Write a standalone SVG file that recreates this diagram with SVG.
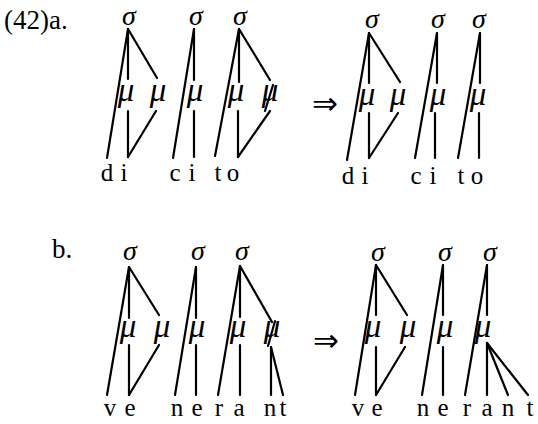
<svg xmlns="http://www.w3.org/2000/svg" width="538" height="424" viewBox="0 0 538 424">
<style>
.lab{font-family:"Liberation Serif",serif;font-size:27px;fill:#000}
.seg{font-family:"Liberation Serif",serif;font-size:25px;fill:#000;text-anchor:middle}
.gr{font-family:"Liberation Serif",serif;font-size:33px;font-style:italic;fill:#000;text-anchor:middle}
.sg{font-size:28px}
.arr{font-family:"DejaVu Sans",sans-serif;font-size:31px;fill:#000;text-anchor:middle}
.ln line{stroke:#000;stroke-width:2.2;stroke-linecap:round}
</style>
<rect width="538" height="424" fill="#fff"/>
<text class="lab" x="4" y="29">(42)a.</text>
<text class="lab" x="52" y="258">b.</text>

<g id="connectors" class="ln">
<!-- a left syll 1 -->
<line x1="128" y1="29" x2="107" y2="158"/>
<line x1="128" y1="29" x2="128" y2="79"/>
<line x1="128" y1="29" x2="157" y2="78"/>
<line x1="128" y1="111" x2="128" y2="157"/>
<line x1="156" y1="111" x2="128" y2="157"/>
<!-- a left syll 2 -->
<line x1="194" y1="29" x2="173" y2="158"/>
<line x1="194" y1="29" x2="194" y2="80"/>
<line x1="194" y1="111" x2="194" y2="157"/>
<!-- a left syll 3 -->
<line x1="239" y1="29" x2="215" y2="156"/>
<line x1="239" y1="29" x2="239" y2="82"/>
<line x1="239" y1="29" x2="270" y2="80"/>
<line x1="238" y1="111" x2="238" y2="157"/>
<line x1="270" y1="111" x2="238" y2="157"/>
<line x1="265" y1="111" x2="273" y2="85"/>
<!-- a right syll 1 -->
<line x1="369" y1="33" x2="347" y2="160"/>
<line x1="369" y1="33" x2="369" y2="83"/>
<line x1="369" y1="33" x2="400" y2="82"/>
<line x1="369" y1="113" x2="369" y2="158"/>
<line x1="398" y1="113" x2="369" y2="158"/>
<!-- a right syll 2 -->
<line x1="437" y1="33" x2="415" y2="158"/>
<line x1="437" y1="33" x2="437" y2="83"/>
<line x1="435" y1="113" x2="435" y2="158"/>
<!-- a right syll 3 -->
<line x1="480" y1="33" x2="458" y2="158"/>
<line x1="480" y1="33" x2="480" y2="83"/>
<line x1="479" y1="113" x2="479" y2="158"/>
<!-- b left syll 1 -->
<line x1="129" y1="267" x2="107" y2="395"/>
<line x1="129" y1="267" x2="129" y2="318"/>
<line x1="129" y1="267" x2="159" y2="315"/>
<line x1="129" y1="345" x2="129" y2="395"/>
<line x1="159" y1="345" x2="129" y2="395"/>
<!-- b left syll 2 -->
<line x1="196" y1="267" x2="175" y2="395"/>
<line x1="196" y1="267" x2="196" y2="318"/>
<line x1="196" y1="345" x2="196" y2="395"/>
<!-- b left syll 3 -->
<line x1="240" y1="266" x2="218" y2="395"/>
<line x1="240" y1="266" x2="240" y2="317"/>
<line x1="240" y1="266" x2="272" y2="322"/>
<line x1="240" y1="345" x2="240" y2="395"/>
<line x1="271" y1="347" x2="271" y2="395"/>
<line x1="271" y1="347" x2="283" y2="395"/>
<line x1="268" y1="346" x2="275" y2="321"/>
<!-- b right syll 1 -->
<line x1="376" y1="265" x2="355" y2="395"/>
<line x1="376" y1="265" x2="376" y2="315"/>
<line x1="376" y1="265" x2="407" y2="315"/>
<line x1="376" y1="347" x2="376" y2="395"/>
<line x1="405" y1="347" x2="376" y2="395"/>
<!-- b right syll 2 -->
<line x1="443" y1="265" x2="422" y2="395"/>
<line x1="443" y1="265" x2="443" y2="315"/>
<line x1="443" y1="347" x2="443" y2="395"/>
<!-- b right syll 3 -->
<line x1="487" y1="265" x2="465" y2="395"/>
<line x1="487" y1="265" x2="487" y2="315"/>
<line x1="487" y1="343" x2="487" y2="395"/>
<line x1="487" y1="343" x2="508" y2="395"/>
<line x1="487" y1="343" x2="528" y2="395"/>
</g>

<g id="a-left">
<text class="gr sg" x="129" y="25">σ</text>
<text class="gr sg" x="196" y="25">σ</text>
<text class="gr sg" x="240" y="25">σ</text>
<text class="gr" x="126" y="101">μ</text>
<text class="gr" x="158" y="101">μ</text>
<text class="gr" x="195" y="101">μ</text>
<text class="gr" x="236" y="101">μ</text>
<text class="gr" x="270" y="101">μ</text>
<text class="seg" x="107" y="181">d</text>
<text class="seg" x="124" y="181">i</text>
<text class="seg" x="175" y="181">c</text>
<text class="seg" x="192" y="181">i</text>
<text class="seg" x="218" y="181">t</text>
<text class="seg" x="233" y="181">o</text>
</g>
<g id="arrow-a"><text class="arr" x="325" y="114">⇒</text></g>
<g id="a-right">
<text class="gr sg" x="372" y="28">σ</text>
<text class="gr sg" x="438" y="28">σ</text>
<text class="gr sg" x="479" y="28">σ</text>
<text class="gr" x="367" y="105">μ</text>
<text class="gr" x="398" y="105">μ</text>
<text class="gr" x="438" y="105">μ</text>
<text class="gr" x="478" y="105">μ</text>
<text class="seg" x="348" y="184">d</text>
<text class="seg" x="365" y="184">i</text>
<text class="seg" x="416" y="184">c</text>
<text class="seg" x="433" y="184">i</text>
<text class="seg" x="461" y="184">t</text>
<text class="seg" x="477" y="184">o</text>
</g>

<g id="b-left">
<text class="gr sg" x="130" y="260">σ</text>
<text class="gr sg" x="198" y="260">σ</text>
<text class="gr sg" x="242" y="260">σ</text>
<text class="gr" x="128" y="337">μ</text>
<text class="gr" x="162" y="337">μ</text>
<text class="gr" x="197" y="337">μ</text>
<text class="gr" x="238" y="337">μ</text>
<text class="gr" x="272" y="337">μ</text>
<text class="seg" x="110" y="416">v</text>
<text class="seg" x="130" y="416">e</text>
<text class="seg" x="177" y="416">n</text>
<text class="seg" x="197" y="416">e</text>
<text class="seg" x="219" y="416">r</text>
<text class="seg" x="239" y="416">a</text>
<text class="seg" x="270" y="416">n</text>
<text class="seg" x="283" y="416">t</text>
</g>
<g id="arrow-b"><text class="arr" x="326" y="351">⇒</text></g>
<g id="b-right">
<text class="gr sg" x="378" y="261">σ</text>
<text class="gr sg" x="445" y="261">σ</text>
<text class="gr sg" x="490" y="261">σ</text>
<text class="gr" x="373" y="337">μ</text>
<text class="gr" x="408" y="337">μ</text>
<text class="gr" x="445" y="337">μ</text>
<text class="gr" x="483" y="337">μ</text>
<text class="seg" x="358" y="416">v</text>
<text class="seg" x="377" y="416">e</text>
<text class="seg" x="423" y="416">n</text>
<text class="seg" x="443" y="416">e</text>
<text class="seg" x="467" y="416">r</text>
<text class="seg" x="487" y="416">a</text>
<text class="seg" x="508" y="416">n</text>
<text class="seg" x="530" y="416">t</text>
</g>
</svg>
